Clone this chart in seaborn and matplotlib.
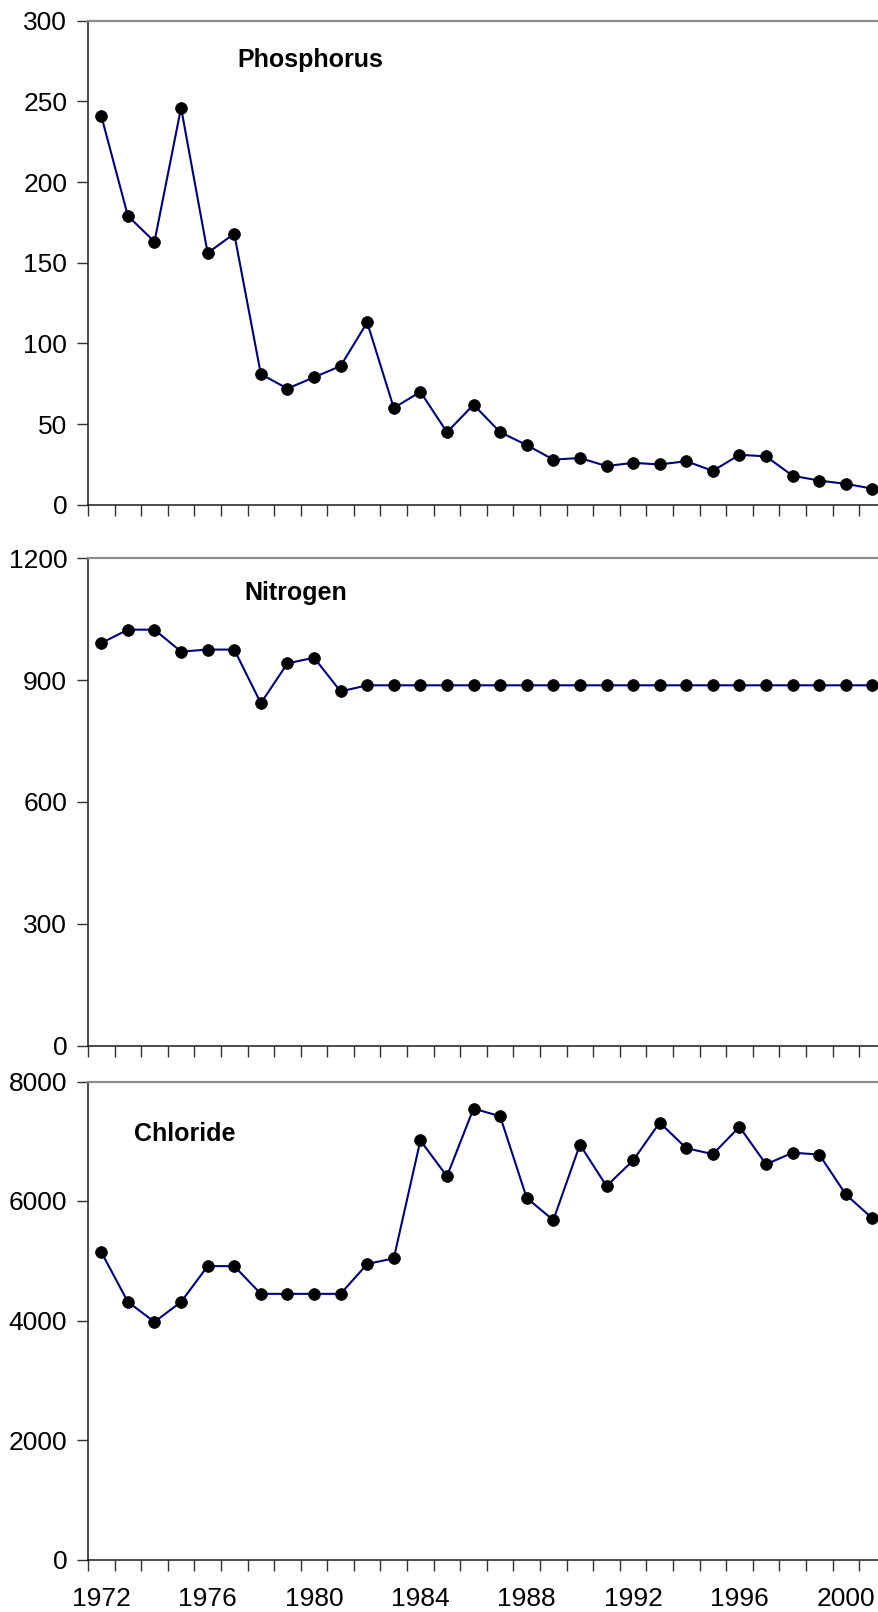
import matplotlib
matplotlib.use("Agg")
import matplotlib.pyplot as plt
import seaborn as sns
import numpy as np
import pandas as pd
from matplotlib.ticker import FixedLocator, NullFormatter

# Annual loads, 1972-2001
years = list(range(1972, 2002))

phosphorus = [241, 179, 163, 246, 156, 168, 81, 72, 79, 86, 113, 60, 70,
              45, 62, 45, 37, 28, 29, 24, 26, 25, 27, 21, 31, 30, 18, 15, 13, 10]

nitrogen = [991, 1024, 1024, 970, 975, 975, 843, 941, 955, 872, 887, 887, 887,
            887, 887, 887, 887, 887, 887, 887, 887, 887, 887, 887, 887, 887,
            887, 887, 887, 887]

chloride = [5145, 4311, 3976, 4311, 4910, 4910, 4446, 4446, 4446, 4446, 4946,
            5040, 7013, 6414, 7548, 7418, 6050, 5680, 6943, 6250, 6678, 7313,
            6884, 6784, 7242, 6614, 6808, 6778, 6109, 5709]

panel_names = ["Phosphorus", "Nitrogen", "Chloride"]
panel_series = [phosphorus, nitrogen, chloride]
panel_ymax = [300, 1200, 8000]
panel_yticks = [[0, 50, 100, 150, 200, 250, 300],
                [0, 300, 600, 900, 1200],
                [0, 2000, 4000, 6000, 8000]]
label_years = [1972, 1976, 1980, 1984, 1988, 1992, 1996, 2000]

sns.set_theme(style="white")
plt.rcParams["font.family"] = ["Liberation Sans", "DejaVu Sans"]

W, H = 879, 1612
fig = plt.figure(figsize=(W / 100, H / 100), dpi=100)

# panel extents in pixels: (top, bottom, left)
boxes = [(20.6, 504.8, 88.0), (558.2, 1045.5, 88.0), (1081.5, 1559.5, 88.0)]
# label anchor positions (x in years, y in axes fraction)
label_pos = [(1979.87, 0.919), (1979.32, 0.929), (1975.15, 0.890)]

x0, x1 = 1971.5, 2001.5
step = 26.59  # pixels per year
for i, (name, vals, ymax, yt, (top, bot, left)) in enumerate(
        zip(panel_names, panel_series, panel_ymax, panel_yticks, boxes)):
    right = left + step * (x1 - x0)
    ax = fig.add_axes([left / W, 1 - bot / H, (right - left) / W, (bot - top) / H])
    df = pd.DataFrame({"year": years, "value": vals})
    sns.lineplot(data=df, x="year", y="value", ax=ax, color="#000080",
                 linewidth=1.5, marker="o", markersize=8.5,
                 markerfacecolor="black", markeredgecolor="black",
                 markeredgewidth=0.5, clip_on=False)
    ax.set_xlim(x0, x1)
    ax.set_ylim(0, ymax)
    ax.set_xlabel("")
    ax.set_ylabel("")

    # y axis
    ax.set_yticks(yt)
    ax.set_yticklabels([str(v) for v in yt])
    ax.tick_params(axis="y", which="major", direction="out", length=8,
                   width=1, color="#303030", pad=7, labelsize=19,
                   labelcolor="black", left=True)

    # x axis: ticks between years, labels under the points
    ax.xaxis.set_major_locator(FixedLocator(label_years))
    ax.xaxis.set_minor_locator(FixedLocator(np.arange(1971.5, 2002.0, 1.0)))
    ax.xaxis.set_minor_formatter(NullFormatter())
    ax.tick_params(axis="x", which="minor", direction="out", length=8,
                   width=1, color="#303030", bottom=True)
    if i == 2:
        ax.set_xticklabels([str(y) for y in label_years])
        ax.tick_params(axis="x", which="major", length=0, pad=20,
                       labelsize=19, labelcolor="black", bottom=True)
    else:
        ax.tick_params(axis="x", which="major", length=0, labelbottom=False)

    for side in ["left", "bottom"]:
        ax.spines[side].set_color("#1a1a1a")
        ax.spines[side].set_linewidth(1.1)
    ax.spines["top"].set_color("#8c8c8c")
    ax.spines["top"].set_linewidth(1.6)
    ax.spines["right"].set_visible(False)
    ax.grid(False)

    tx, ty = label_pos[i]
    ax.text(tx, ty, name, transform=ax.get_xaxis_transform(),
            ha="center", va="center", fontsize=18, fontweight="bold",
            color="black")

fig.savefig("out.png", dpi=100)
